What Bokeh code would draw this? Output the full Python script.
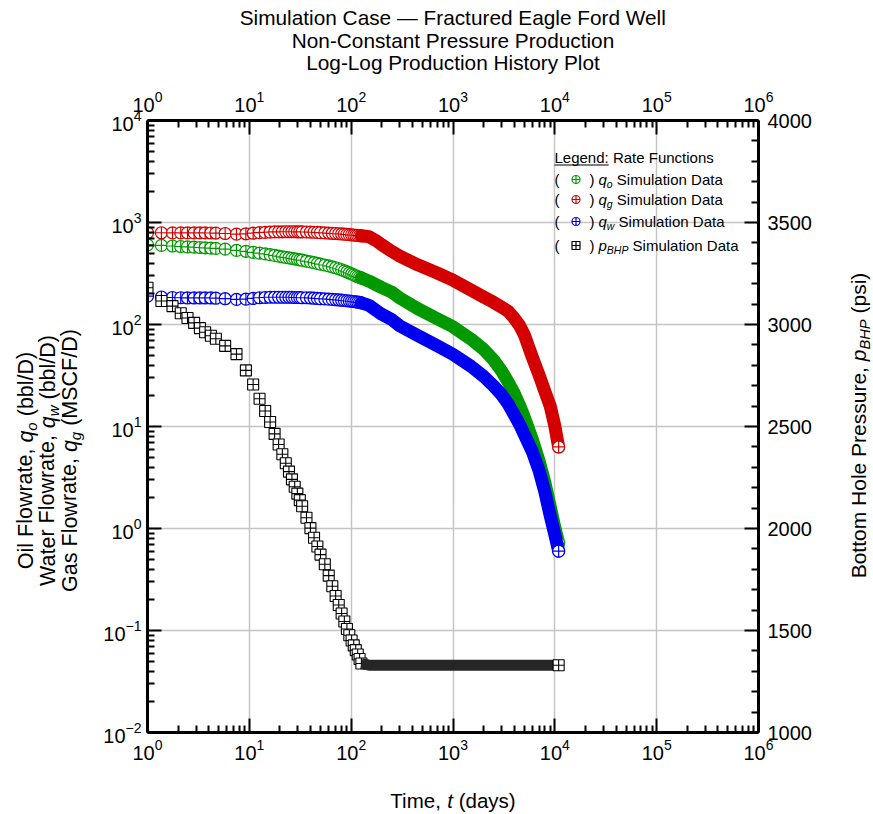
import math
from bokeh.plotting import figure
from bokeh.models import (LogAxis, LinearAxis, FixedTicker, Range1d, LinearScale,
                          LogTickFormatter, ColumnDataSource)
from bokeh.core.properties import value
from bokeh.embed import file_html
from bokeh.resources import INLINE

# ---------------- data ----------------
t_days = [1.0, 1.37, 1.76, 2.12, 2.47, 2.87, 3.27, 3.68, 4.19, 4.69, 5.79, 7.48, 9.25,
          10.9, 12.6, 14.3, 16.0, 17.7, 19.4, 21.1, 22.8, 24.5, 26.2, 27.9, 29.6, 31.3,
          33.0, 36.4, 39.8, 43.2, 46.6, 50.0, 55.1, 60.2, 65.3, 70.4, 75.5, 80.6, 85.7,
          90.8, 95.9, 101.0, 106.0, 111.0, 116.0, 121.0, 126.0, 150.0, 175.0, 200.0,
          250.0, 300.0, 450.0, 700.0, 1000.0, 1500.0, 2000.0, 2500.0, 3000.0, 3500.0,
          4000.0, 4500.0, 5000.0, 6000.0, 7000.0, 8000.0, 9000.0, 10000.0, 10900.0]

q_oil = [604, 596, 588, 582, 577, 573, 569, 565, 561, 557, 548, 532, 522,
         510, 500, 492, 484, 476, 468, 461, 455, 450, 445, 440, 436, 431,
         427, 419, 411, 404, 397, 391, 383, 375, 368, 360, 352, 344, 336,
         328, 320, 313, 306, 300, 295, 290, 286, 266, 246, 230,
         208, 182, 143, 114, 95, 72, 57, 45, 35, 27,
         21, 16.2, 12.4, 7.5, 4.6, 2.8, 1.65, 1.02, 0.72]

q_gas = [793, 793, 792, 792, 791, 791, 790, 790, 789, 788, 780, 770, 775,
         785, 795, 800, 805, 808, 810, 811, 812, 812, 812, 812, 811, 810,
         809, 807, 805, 802, 799, 796, 792, 788, 784, 780, 776, 772, 768,
         764, 760, 757, 754, 750, 747, 744, 741, 725, 665, 605,
         522, 468, 385, 320, 272, 218, 186, 165, 148, 134,
         115, 98, 80, 48, 32, 22, 15.9, 10.1, 6.3]

q_water = [190, 186, 184, 183, 182, 182, 182, 182, 182, 181, 179, 176, 177,
           180, 183, 184, 185, 185, 185, 185, 185, 185, 185, 184, 184, 184,
           183, 183, 182, 181, 180, 179, 178, 177, 176, 175, 174, 173, 172,
           171, 170, 169, 168, 167, 166, 165, 163, 154, 138, 126,
           112, 97, 78, 62, 51, 39, 31, 25, 20.5, 16.5,
           13.0, 10.5, 8.4, 5.7, 3.7, 2.26, 1.34, 0.87, 0.6]

p_bhp = [3180, 3115, 3090, 3055, 3032, 3008, 2982, 2962, 2945, 2930, 2895, 2855, 2775,
         2706, 2636, 2576, 2522, 2464, 2412, 2364, 2320, 2279, 2241, 2205, 2171, 2139,
         2109, 2053, 2002, 1955, 1912, 1872, 1825, 1769, 1717, 1669, 1625, 1583, 1544,
         1507, 1477, 1451, 1427, 1404, 1382, 1360, 1338, 1330, 1330, 1330,
         1330, 1330, 1330, 1330, 1330, 1330, 1330, 1330, 1330, 1330,
         1330, 1330, 1330, 1330, 1330, 1330, 1330, 1330, 1330]

x_ticks = [1e0, 1e1, 1e2, 1e3, 1e4, 1e5, 1e6]
y_ticks = [1e-2, 1e-1, 1e0, 1e1, 1e2, 1e3, 1e4]
psi_ticks = [1000, 1500, 2000, 2500, 3000, 3500, 4000]

title_lines = ["Simulation Case \u2014 Fractured Eagle Ford Well",
               "Non-Constant Pressure Production",
               "Log-Log Production History Plot"]

# ---------------- layout / style ----------------
W, H = 873, 814
BL, BR, BT, BB = 147, 115, 120, 82
FW, FH = W - BL - BR, H - BT - BB
XMIN, XMAX = 1.0, 1.0e6
YMIN, YMAX = 1.0e-2, 1.0e4
FONT = "Liberation Sans"
C_OIL, C_GAS, C_WAT, C_P = "#009a00", "#d40000", "#0000f0", "#000000"
MS = 12      # plot marker size
BAND = 13    # width of the dense-marker band


def X(px):
    a, b = math.log10(XMIN), math.log10(XMAX)
    return 10 ** (a + (px - BL) / FW * (b - a))


def Y(py):
    a, b = math.log10(YMIN), math.log10(YMAX)
    return 10 ** (b - (py - BT) / FH * (b - a))


AW = {' ': 278, ',': 278, '.': 278, '(': 333, ')': 333, '/': 278, ':': 278, '\u2014': 1000,
      '-': 333, 'a': 556, 'b': 556, 'c': 500, 'd': 556, 'e': 556, 'f': 278, 'g': 556,
      'h': 556, 'i': 222, 'j': 222, 'k': 500, 'l': 222, 'm': 833, 'n': 556, 'o': 556,
      'p': 556, 'q': 556, 'r': 333, 's': 500, 't': 278, 'u': 556, 'v': 500, 'w': 722,
      'x': 500, 'y': 500, 'z': 500, 'A': 667, 'B': 667, 'C': 722, 'D': 722, 'E': 667,
      'F': 611, 'G': 778, 'H': 722, 'I': 278, 'L': 556, 'M': 833, 'N': 722, 'O': 778,
      'P': 667, 'R': 722, 'S': 667, 'T': 611, 'W': 944}


def tw(s, size):
    return sum(AW.get(c, 556) for c in s) * size / 1000.0


p = figure(width=W, height=H, x_axis_type="log", y_axis_type="log",
           x_range=Range1d(XMIN, XMAX), y_range=Range1d(YMIN, YMAX),
           output_backend="svg", toolbar_location=None,
           min_border_left=BL, min_border_right=BR, min_border_top=BT, min_border_bottom=BB)
p.extra_y_ranges = {"psi": Range1d(1000, 4000)}
p.extra_y_scales = {"psi": LinearScale()}
p.outline_line_color = None
p.background_fill_color = "white"
p.border_fill_color = "white"

x_minor = [m * 10 ** e for e in range(0, 6) for m in range(2, 10)]
y_minor = [m * 10.0 ** e for e in range(-2, 4) for m in range(2, 10)]
psi_minor = [v for v in range(1100, 4000, 100) if v % 500]

xt = FixedTicker(ticks=x_ticks, minor_ticks=x_minor)
yt = FixedTicker(ticks=y_ticks, minor_ticks=y_minor)

top = LogAxis(ticker=xt, formatter=LogTickFormatter())
p.add_layout(top, "above")
right = LinearAxis(y_range_name="psi",
                   ticker=FixedTicker(ticks=psi_ticks, minor_ticks=psi_minor))
p.add_layout(right, "right")

for ax in list(p.xaxis) + list(p.yaxis) + [top, right]:
    ax.axis_line_width = 3
    ax.axis_line_color = "black"
    ax.major_tick_in = 14
    ax.major_tick_out = 0
    ax.minor_tick_in = 7
    ax.minor_tick_out = 0
    ax.major_tick_line_width = 2
    ax.minor_tick_line_width = 2
    ax.major_tick_line_color = "black"
    ax.minor_tick_line_color = "black"
    ax.major_label_text_font = FONT
    ax.major_label_text_font_size = "20px"
    ax.major_label_text_color = "black"
    ax.major_label_standoff = 6
for ax in p.xaxis:
    ax.ticker = xt
for ax in p.yaxis:
    if ax is not right:
        ax.ticker = yt
right.major_label_standoff = 9
top.major_label_standoff = 9

p.xgrid.ticker = xt
p.ygrid.ticker = yt
p.grid.grid_line_color = "#c4c4c4"
p.grid.grid_line_width = 1.5

# ---------------- series ----------------
k_rate = t_days.index(126.0)
for q, c in ((q_oil, C_OIL), (q_gas, C_GAS), (q_water, C_WAT)):
    p.scatter(t_days[:k_rate + 1], q[:k_rate + 1], marker="circle_cross", size=MS,
              line_color=c, fill_color="white", line_width=1.2)
    p.line(t_days[k_rate:], q[k_rate:], line_color=c, line_width=BAND,
           line_cap="round", line_join="round")
    p.scatter(t_days[-1:], q[-1:], marker="circle_cross", size=MS,
              line_color=c, fill_color="white", line_width=1.2)

k_p = t_days.index(126.0)
p.scatter(t_days[:k_p + 1], p_bhp[:k_p + 1], marker="square_cross", size=MS - 1,
          line_color=C_P, fill_color="white", line_width=1.1, y_range_name="psi")
p.line(t_days[k_p:], p_bhp[k_p:], line_color="#262626", line_width=MS - 1,
       y_range_name="psi")
p.scatter(t_days[-1:], p_bhp[-1:], marker="square_cross", size=MS - 1,
          line_color=C_P, fill_color="white", line_width=1.1, y_range_name="psi")

# ---------------- texts (one text renderer, drawn unclipped) ----------------
txt = dict(x=[], y=[], text=[], angle=[], fs=[], st=[])


def rich(parts, px, py, size, angle=0.0, align="left"):
    """parts: (text, kind); kind 'n' normal, 'i' italic, 's' italic subscript."""
    sizes = [size * 0.7 if k == "s" else size for _, k in parts]
    widths = [tw(t, s) for (t, _), s in zip(parts, sizes)]
    total = sum(widths)
    pos = {"left": 0.0, "center": -total / 2.0, "right": -total}[align]
    for (text, kind), s, w in zip(parts, sizes, widths):
        lead = len(text) - len(text.lstrip(" "))
        off = pos + tw(" " * lead, s)
        shift = size * 0.3 if kind == "s" else 0.0
        if angle == 0.0:
            sx, sy = px + off, py + shift
        else:
            sx, sy = px + shift, py - off
        txt["x"].append(X(sx))
        txt["y"].append(Y(sy))
        txt["text"].append(text.strip(" "))
        txt["angle"].append(angle)
        txt["fs"].append(f"{s:.1f}px")
        txt["st"].append("italic" if kind in "is" else "normal")
        pos += w


for i, line in enumerate(title_lines):
    rich([(line, "n")], 452.5, 17 + i * 22.5, 20.8, align="center")

rich([("Time, ", "n"), ("t", "i"), (" (days)", "n")], 452.5, 800, 20.5, align="center")

ROT = math.pi / 2
LS = 21.5
rich([("Oil Flowrate, ", "n"), ("q", "i"), ("o", "s"), (" (bbl/D)", "n")], 25, 460, LS, ROT, "center")
rich([("Water Flowrate, ", "n"), ("q", "i"), ("w", "s"), (" (bbl/D)", "n")], 47, 460, LS, ROT, "center")
rich([("Gas Flowrate, ", "n"), ("q", "i"), ("g", "s"), (" (MSCF/D)", "n")], 69, 460, LS, ROT, "center")

rich([("Bottom Hole Pressure, ", "n"), ("p", "i"), ("BHP", "s"), (" (psi)", "n")], 858, 425, 21, ROT, "center")

# legend texts
LF = 15
rich([("Legend:", "n"), (" Rate Functions", "n")], 554, 157, LF)
rows = [(179, "q", "o", C_OIL, "circle_cross"),
        (199, "q", "g", C_GAS, "circle_cross"),
        (221, "q", "w", C_WAT, "circle_cross"),
        (245, "p", "BHP", C_P, "square_cross")]
for yc, sym, sub, col, mk in rows:
    rich([("(", "n")], 554, yc, LF)
    rich([(")", "n")], 589, yc, LF)
    rich([(sym, "i"), (sub, "s"), (" Simulation Data", "n")], 598, yc, LF)

p.text(x="x", y="y", text="text", angle="angle", text_font_size="fs",
       text_font_style="st", text_font=value(FONT), text_color="black",
       text_align="left", text_baseline="middle",
       source=ColumnDataSource(txt), level="annotation")

# legend marks
p.segment(x0=[X(554)], y0=[Y(164.5)], x1=[X(554 + tw("Legend:", LF))], y1=[Y(164.5)],
          line_color="black", line_width=1.2)
for yc, sym, sub, col, mk in rows:
    p.scatter([X(575.5)], [Y(yc)], marker=mk, size=8, line_color=col,
              fill_color="white", line_width=1.2)

open("out.html", "w").write(file_html(p, INLINE))
